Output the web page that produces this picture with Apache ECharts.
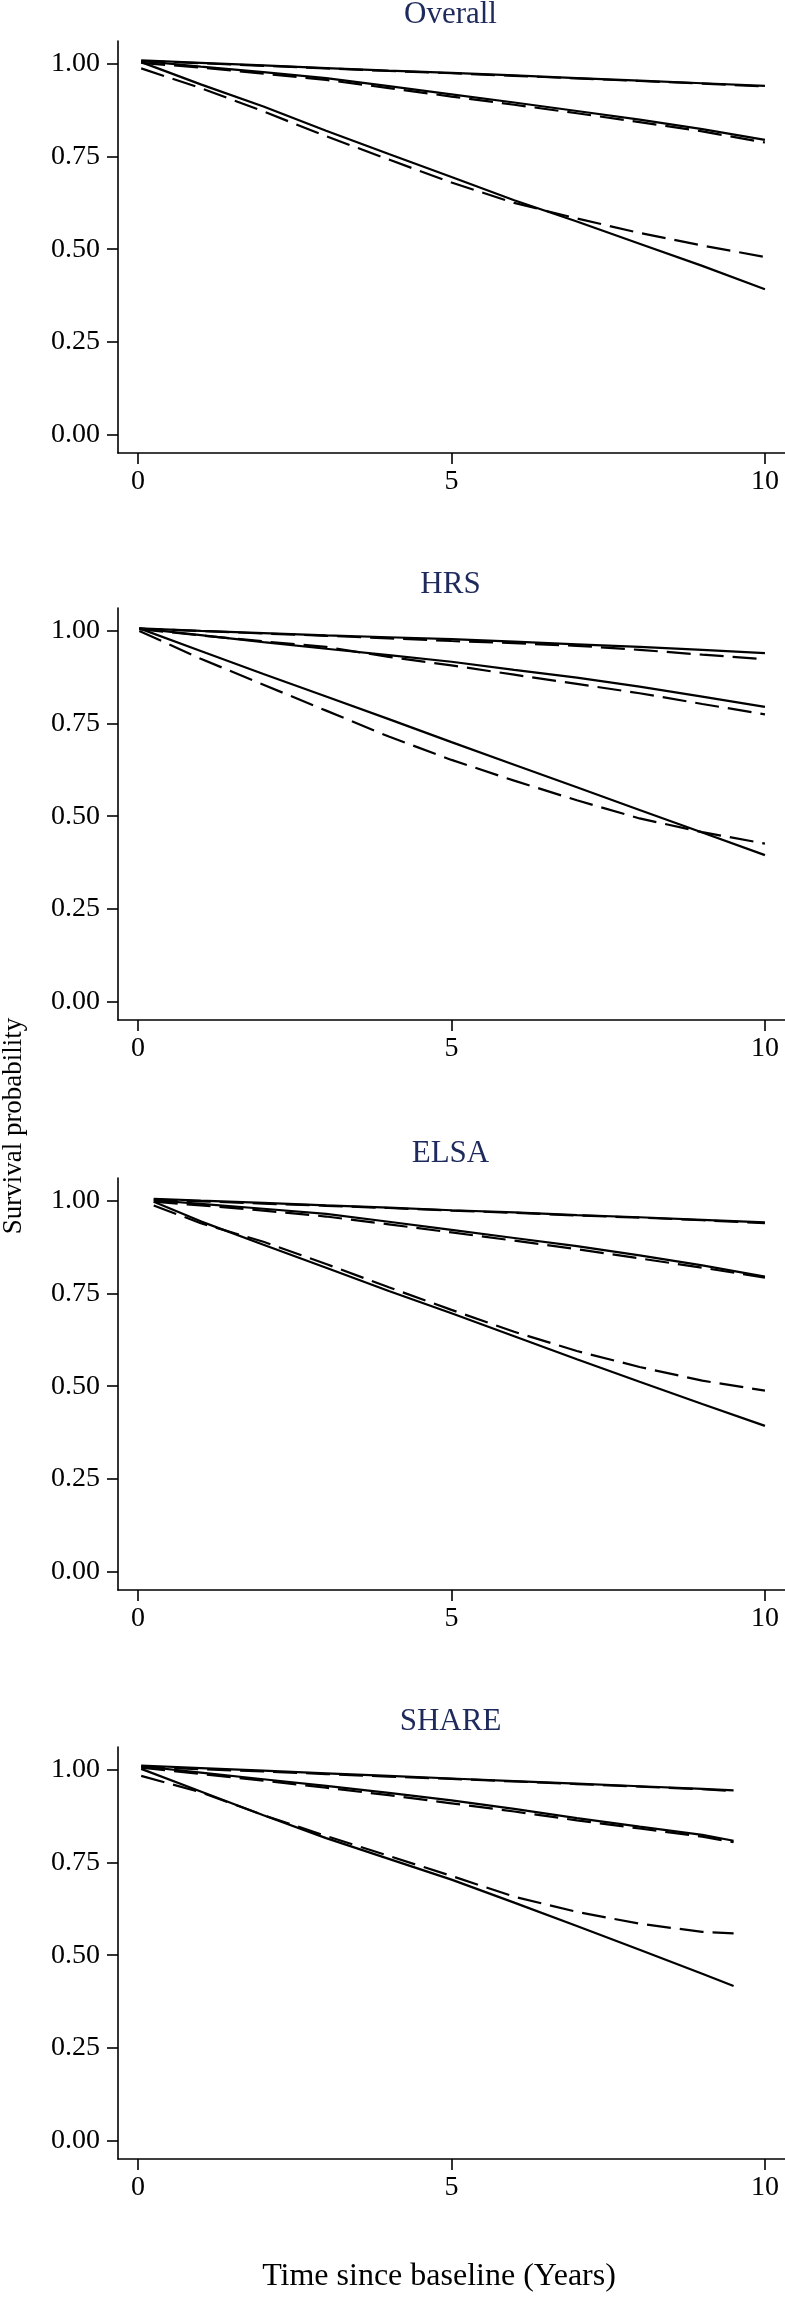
<!DOCTYPE html>
<html>
<head>
<meta charset="utf-8">
<script src="https://cdn.jsdelivr.net/npm/echarts@6/dist/echarts.min.js"></script>
<style>
html,body{margin:0;padding:0;background:#fff;}
#chart{width:785px;height:2300px;}
</style>
</head>
<body>
<div id="chart"></div>
<script>
// ---- Data ----
const panelTitles = ['Overall', 'HRS', 'ELSA', 'SHARE'];
const xTicks = [0, 5, 10];
const yTicks = [0, 0.25, 0.5, 0.75, 1];
const yAxisTitle = 'Survival probability';
const xAxisTitle = 'Time since baseline (Years)';

const timesOverall = [0.05, 1, 2, 3, 4, 5, 6, 7, 8, 9, 10];
const timesHRS     = [0.02, 1, 2, 3, 4, 5, 6, 7, 8, 9, 10];
const timesELSA    = [0.25, 1, 2, 3, 4, 5, 6, 7, 8, 9, 10];
const timesSHARE   = [0.05, 1, 2, 3, 4, 5, 6, 7, 8, 9, 9.5];

// Overall
const overallTopSolid  = [1.010, 1.003, 0.996, 0.989, 0.982, 0.976, 0.969, 0.962, 0.955, 0.948, 0.941];
const overallTopDash   = [1.008, 1.002, 0.995, 0.988, 0.981, 0.975, 0.968, 0.961, 0.954, 0.947, 0.939];
const overallMidSolid  = [1.008, 0.993, 0.978, 0.962, 0.940, 0.918, 0.896, 0.873, 0.850, 0.824, 0.795];
const overallMidDash   = [1.003, 0.990, 0.974, 0.957, 0.935, 0.912, 0.890, 0.867, 0.843, 0.818, 0.788];
const overallLowSolid  = [1.005, 0.945, 0.885, 0.820, 0.757, 0.695, 0.632, 0.575, 0.515, 0.455, 0.392];
const overallLowDash   = [0.988, 0.935, 0.872, 0.805, 0.742, 0.680, 0.625, 0.583, 0.544, 0.510, 0.479];

// HRS
const hrsTopSolid = [1.007, 1.000, 0.994, 0.988, 0.983, 0.978, 0.971, 0.964, 0.957, 0.949, 0.940];
const hrsTopDash  = [1.006, 1.000, 0.993, 0.987, 0.980, 0.973, 0.967, 0.960, 0.949, 0.936, 0.924];
const hrsMidSolid = [1.007, 0.989, 0.970, 0.952, 0.935, 0.917, 0.895, 0.874, 0.850, 0.823, 0.795];
const hrsMidDash  = [1.005, 0.988, 0.972, 0.957, 0.930, 0.907, 0.882, 0.857, 0.832, 0.803, 0.775];
const hrsLowSolid = [1.007, 0.946, 0.884, 0.823, 0.762, 0.700, 0.639, 0.578, 0.517, 0.456, 0.395];
const hrsLowDash  = [1.000, 0.925, 0.855, 0.785, 0.715, 0.652, 0.596, 0.543, 0.494, 0.457, 0.426];

// ELSA
const elsaTopSolid = [1.006, 1.001, 0.995, 0.988, 0.982, 0.975, 0.969, 0.962, 0.956, 0.949, 0.942];
const elsaTopDash  = [1.004, 0.999, 0.993, 0.987, 0.981, 0.974, 0.968, 0.961, 0.955, 0.948, 0.940];
const elsaMidSolid = [1.002, 0.992, 0.979, 0.965, 0.944, 0.922, 0.900, 0.878, 0.853, 0.826, 0.796];
const elsaMidDash  = [0.998, 0.988, 0.974, 0.958, 0.937, 0.915, 0.893, 0.870, 0.845, 0.820, 0.793];
const elsaLowSolid = [0.998, 0.945, 0.882, 0.820, 0.757, 0.697, 0.635, 0.573, 0.512, 0.452, 0.393];
const elsaLowDash  = [0.988, 0.940, 0.890, 0.830, 0.767, 0.706, 0.647, 0.595, 0.552, 0.515, 0.488];

// SHARE
const shareTopSolid = [1.012, 1.005, 0.998, 0.991, 0.984, 0.977, 0.970, 0.963, 0.956, 0.949, 0.945];
const shareTopDash  = [1.008, 1.002, 0.996, 0.989, 0.982, 0.976, 0.969, 0.962, 0.955, 0.948, 0.943];
const shareMidSolid = [1.010, 0.993, 0.975, 0.957, 0.938, 0.918, 0.895, 0.870, 0.847, 0.825, 0.809];
const shareMidDash  = [1.006, 0.989, 0.971, 0.952, 0.932, 0.910, 0.888, 0.864, 0.842, 0.820, 0.805];
const shareLowSolid = [1.003, 0.942, 0.878, 0.816, 0.760, 0.704, 0.642, 0.579, 0.515, 0.450, 0.417];
const shareLowDash  = [0.984, 0.940, 0.878, 0.822, 0.768, 0.714, 0.658, 0.617, 0.585, 0.563, 0.559];

const panels = [
  { times: timesOverall, solid: [overallTopSolid, overallMidSolid, overallLowSolid], dashed: [overallTopDash, overallMidDash, overallLowDash] },
  { times: timesHRS,     solid: [hrsTopSolid, hrsMidSolid, hrsLowSolid],             dashed: [hrsTopDash, hrsMidDash, hrsLowDash] },
  { times: timesELSA,    solid: [elsaTopSolid, elsaMidSolid, elsaLowSolid],          dashed: [elsaTopDash, elsaMidDash, elsaLowDash] },
  { times: timesSHARE,   solid: [shareTopSolid, shareMidSolid, shareLowSolid],       dashed: [shareTopDash, shareMidDash, shareLowDash] }
];

// ---- Layout ----
const FONT = '"Liberation Serif", "Times New Roman", serif';
const gridLeft = 118, gridWidth = 667, gridHeight = 412;
const gridTops = [41, 608, 1178, 1747];
const titleCenters = [15, 585, 1154, 1722];

const grids = [], xAxes = [], yAxes = [], series = [], graphics = [];
panels.forEach((p, i) => {
  grids.push({ left: gridLeft, top: gridTops[i], width: gridWidth, height: gridHeight, containLabel: false });
  xAxes.push({
    type: 'value', gridIndex: i, min: -0.32, max: 10.32,
    axisLine: { show: true, onZero: false, lineStyle: { color: '#000', width: 1.6 } },
    axisTick: { show: true, length: 11, customValues: xTicks, lineStyle: { color: '#000', width: 1.6 } },
    axisLabel: { customValues: xTicks, fontFamily: FONT, fontSize: 28, color: '#000', margin: 15 },
    splitLine: { show: false }
  });
  yAxes.push({
    type: 'value', gridIndex: i, min: -0.05, max: 1.062,
    axisLine: { show: true, onZero: false, lineStyle: { color: '#000', width: 1.6 } },
    axisTick: { show: true, length: 11, customValues: yTicks, lineStyle: { color: '#000', width: 1.6 } },
    axisLabel: { customValues: yTicks, fontFamily: FONT, fontSize: 28, color: '#000', margin: 18,
                 formatter: v => Number(v).toFixed(2) },
    splitLine: { show: false }
  });
  const addLine = (vals, dashed) => {
    series.push({
      type: 'line', xAxisIndex: i, yAxisIndex: i,
      data: p.times.map((t, k) => [t, vals[k]]),
      showSymbol: false, symbol: 'none', silent: true,
      lineStyle: { color: '#000', width: 2.2, type: dashed ? [24, 9] : 'solid' }
    });
  };
  p.solid.forEach(v => addLine(v, false));
  p.dashed.forEach(v => addLine(v, true));
  graphics.push({
    type: 'text', x: gridLeft + gridWidth / 2 - 1, y: titleCenters[i],
    style: { text: panelTitles[i], fontFamily: FONT, fontSize: 31, fill: '#1f2a5c',
             textAlign: 'center', textVerticalAlign: 'middle' }
  });
});

graphics.push({
  type: 'text', x: 14, y: 1126, rotation: Math.PI / 2,
  style: { text: yAxisTitle, fontFamily: FONT, fontSize: 27, fill: '#000',
           textAlign: 'center', textVerticalAlign: 'middle' }
});
graphics.push({
  type: 'text', x: 439, y: 2277,
  style: { text: xAxisTitle, fontFamily: FONT, fontSize: 32, fill: '#000',
           textAlign: 'center', textVerticalAlign: 'middle' }
});

const chart = echarts.init(document.getElementById('chart'), null, { renderer: 'canvas' });
chart.setOption({
  animation: false,
  backgroundColor: '#fff',
  grid: grids,
  xAxis: xAxes,
  yAxis: yAxes,
  series: series,
  graphic: graphics
});
</script>
</body>
</html>
